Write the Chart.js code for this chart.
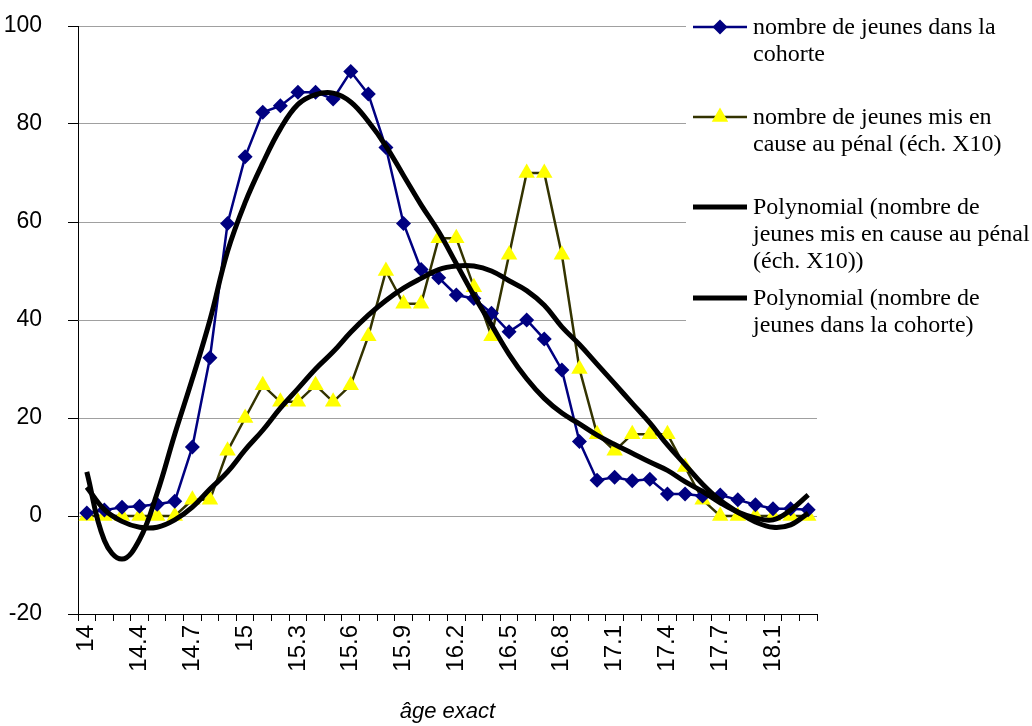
<!DOCTYPE html>
<html>
<head>
<meta charset="utf-8">
<script src="https://cdn.jsdelivr.net/npm/chart.js@4.4.1/dist/chart.umd.min.js"></script>
<style>
html,body{margin:0;padding:0;background:#fff;}
#wrap{position:relative;width:1032px;height:726px;}
</style>
</head>
<body>
<div id="wrap"><canvas id="c" width="1032" height="726"></canvas></div>
<script>
// Categories (âge exact)
const ageLabels = ['14','14.1','14.2','14.4','14.5','14.6','14.7','14.8','14.9','15','15.1','15.2','15.3','15.4','15.5','15.6','15.7','15.8','15.9','16','16.1','16.2','16.3','16.4','16.5','16.6','16.7','16.8','16.9','17','17.1','17.2','17.3','17.4','17.5','17.6','17.7','17.8','18','18.1','18.2','18.3'];

// Series values
const cohorte = [0.6,1.2,1.8,2.0,2.4,3.0,14.1,32.3,59.7,73.3,82.4,83.7,86.5,86.5,85.1,90.7,86.1,75.2,59.7,50.3,48.6,45.1,44.4,41.4,37.6,40.0,36.1,29.8,15.2,7.3,7.9,7.2,7.5,4.5,4.5,4.1,4.3,3.3,2.3,1.5,1.5,1.3];
const penal = [0,0,0,0,0,0,3.3,3.3,13.3,20,26.7,23.3,23.3,26.7,23.3,26.7,36.7,50,43.3,43.3,56.7,56.7,46.7,36.7,53.3,70,70,53.3,30,16.7,13.3,16.7,16.7,16.7,10,3.3,0,0,0,0,0,0];
const trendPenal = [5.9,1.3,-1.1,-2.3,-2.3,-0.8,1.8,5.5,9,13.5,17.5,22,26,30,33.5,37.5,41,44,46.5,48.5,50.3,51,51,50,48,46,43,38.6,35,31,27,23,19,14.5,10.5,6.5,3.2,0.8,-1.2,-2.3,-1.8,0.6];
const trendCohorte = [9.0,-5.0,-8.8,-4.8,4.7,16.7,28,40,54,64,72,79,84,86,86.3,84.5,80.5,75.5,69.5,63.5,58,51.5,45,39,33,28,24,21,18.8,16.5,14.6,12.8,11,9.3,7,5,2.7,0.8,-0.4,-0.8,1.2,4.3];

// Axis ticks
const yTicks = {min: -20, max: 100, step: 20};
const xTitle = 'âge exact';

// Legend texts (one array per entry, one string per line)
const legendCohorte = ['nombre de jeunes dans la', 'cohorte'];
const legendPenal = ['nombre de jeunes mis en', 'cause au pénal (éch. X10)'];
const legendTrendPenal = ['Polynomial (nombre de', 'jeunes mis en cause au pénal', '(éch. X10))'];
const legendTrendCohorte = ['Polynomial (nombre de', 'jeunes dans la cohorte)'];

const SANS = '"Liberation Sans", Arial, sans-serif';
const SERIF = '"Liberation Serif", "Times New Roman", serif';

const legendPlugin = {
  id: 'sideLegend',
  afterDraw(chart) {
    const ctx = chart.ctx;
    ctx.save();
    ctx.fillStyle = '#ffffff';
    ctx.fillRect(686, 0, 346, 345);
    const rows = [27, 117, 207, 298];
    chart.data.datasets.forEach((ds, i) => {
      const y = rows[i];
      ctx.beginPath();
      ctx.strokeStyle = ds.borderColor;
      ctx.lineWidth = ds.borderWidth;
      ctx.lineCap = 'butt';
      ctx.moveTo(693, y);
      ctx.lineTo(747, y);
      ctx.stroke();
      if (ds.pointRadius > 0) {
        ctx.fillStyle = ds.pointBackgroundColor;
        Chart.helpers.drawPoint(ctx, {pointStyle: ds.pointStyle, radius: ds.pointRadius, rotation: 0, borderWidth: 0}, 720, y);
      }
      ctx.fillStyle = '#000';
      ctx.font = '24px ' + SERIF;
      ctx.textAlign = 'left';
      ctx.textBaseline = 'middle';
      ds.legendLines.forEach((t, k) => ctx.fillText(t, 753, y + 1 + k * 27));
    });
    ctx.restore();
  }
};

new Chart(document.getElementById('c'), {
  type: 'line',
  data: {
    labels: ageLabels,
    datasets: [
      {label: legendCohorte.join(' '), legendLines: legendCohorte, data: cohorte,
       borderColor: '#000080', backgroundColor: '#000080', borderWidth: 2.5,
       pointStyle: 'rectRot', pointRadius: 7.5, pointBorderWidth: 0, pointBackgroundColor: '#000080',
       tension: 0, order: 2},
      {label: legendPenal.join(' '), legendLines: legendPenal, data: penal,
       borderColor: '#333300', backgroundColor: '#ffff00', borderWidth: 2.5,
       pointStyle: 'triangle', pointRadius: 9.5, pointBorderWidth: 0, pointBackgroundColor: '#ffff00',
       tension: 0, order: 3},
      {label: legendTrendPenal.join(' '), legendLines: legendTrendPenal, data: trendPenal,
       borderColor: '#000000', borderWidth: 5, pointRadius: 0, tension: 0.4, order: 1},
      {label: legendTrendCohorte.join(' '), legendLines: legendTrendCohorte, data: trendCohorte,
       borderColor: '#000000', borderWidth: 5, pointRadius: 0, tension: 0.4, order: 1}
    ]
  },
  options: {
    responsive: false,
    animation: false,
    devicePixelRatio: 1,
    layout: {padding: {top: 26, right: 215, bottom: 0, left: 0}},
    plugins: {legend: {display: false}, tooltip: {enabled: false}},
    scales: {
      x: {
        offset: true,
        grid: {offset: true, drawOnChartArea: false, drawTicks: true, tickLength: 7, tickColor: '#000'},
        border: {color: '#000', width: 1},
        ticks: {
          autoSkip: false, maxRotation: 90, minRotation: 90, padding: 4, color: '#000',
          font: {family: SANS, size: 24},
          callback: function (v, i) { return i % 3 === 0 ? this.getLabelForValue(v) : ''; }
        },
        title: {display: true, text: xTitle, color: '#000', font: {family: SANS, size: 22, style: 'italic'}, padding: {top: 0, bottom: 1}},
        afterFit(s) { s.height = 112; }
      },
      y: {
        min: yTicks.min, max: yTicks.max,
        ticks: {stepSize: yTicks.step, padding: 26, color: '#000', font: {family: SANS, size: 23, lineHeight: 0}},
        grid: {color: '#a0a0a0', tickColor: '#000', tickLength: 10, lineWidth: 1},
        border: {color: '#000', width: 1},
        afterFit(s) { s.width = 78; }
      }
    }
  },
  plugins: [legendPlugin]
});
</script>
</body>
</html>
